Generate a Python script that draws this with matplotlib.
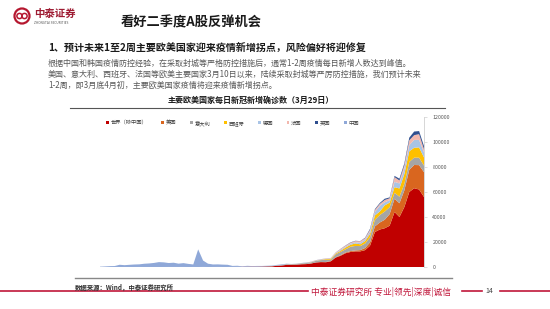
import matplotlib
matplotlib.use("Agg")
import matplotlib.pyplot as plt
import matplotlib.patches as mpatches
from matplotlib.lines import Line2D
import pandas as pd

plt.rcParams['font.family'] = ['Noto Sans CJK SC', 'DejaVu Sans']

dates = pd.date_range('2020-01-23', '2020-03-29')

series_names = ["世界（除中国）", "美国", "意大利", "西班牙", "德国", "法国", "英国", "中国"]

world_ex_china = [5, 8, 10, 12, 15, 10, 12, 20, 25,
                  10, 12, 15, 15, 20, 25, 30, 20, 40, 5, 30, 5, 70, 10, 30, 60, 20, 25, 50, 100,
                  150, 230, 260, 240, 330, 450, 510, 950, 1200,
                  1700, 1800, 1900, 2200, 2300, 2800, 3600, 3900, 3800, 4500, 7500, 9000, 11000, 12000,
                  12500, 12500, 13500, 17000, 28000, 30000, 31000, 33000, 44000, 40000, 48000, 60000,
                  63000, 62000, 56000]
usa = [0, 0, 0, 0, 0, 0, 0, 0, 0,
       0, 1, 0, 0, 0, 0, 0, 0, 0, 0, 0, 0, 0, 0, 0, 0, 0, 0, 0, 0,
       2, 0, 0, 18, 0, 0, 2, 1, 3,
       20, 25, 25, 30, 70, 60, 100, 120, 170, 300, 290, 450, 550, 700,
       750, 1000, 1700, 2700, 4500, 5600, 6800, 9300, 10600, 11000, 13300, 17800,
       18600, 19500, 19900]
italy = [0, 0, 0, 0, 0, 0, 0, 0, 2,
         0, 0, 0, 0, 0, 1, 0, 0, 0, 0, 0, 0, 0, 0, 0, 0, 0, 0, 0, 0,
         17, 62, 77, 73, 93, 78, 250, 238, 240,
         566, 342, 466, 587, 769, 778, 1247, 1492, 1797, 977, 2313, 2651, 2547, 3497,
         3590, 3233, 3526, 4207, 5322, 5986, 6557, 5560, 4789, 5249, 5210, 6203,
         5909, 5974, 5217]
spain = [0, 0, 0, 0, 0, 0, 0, 0, 0,
         1, 0, 0, 0, 0, 0, 0, 0, 1, 0, 0, 0, 0, 0, 0, 0, 0, 0, 0, 0,
         0, 0, 0, 0, 3, 7, 3, 17, 13,
         40, 36, 51, 70, 60, 150, 120, 200, 550, 600, 600, 900, 1400, 1500,
         2000, 1438, 1987, 2538, 3431, 2833, 4946, 3646, 4517, 6584, 7937, 8578,
         7871, 8189, 6549]
germany = [0, 0, 0, 0, 0, 1, 3, 0, 1,
           2, 2, 2, 2, 0, 0, 1, 0, 0, 0, 0, 0, 0, 0, 0, 0, 0, 0, 0, 0,
           0, 0, 0, 0, 1, 1, 5, 20, 10,
           60, 30, 40, 60, 160, 130, 160, 250, 200, 300, 370, 800, 700, 900,
           1000, 1200, 1200, 2000, 2800, 4500, 2500, 1900, 4200, 4000, 4100, 4900,
           6300, 6000, 4000]
france = [0, 2, 1, 0, 0, 0, 1, 0, 1,
          0, 0, 0, 0, 0, 0, 0, 5, 0, 0, 0, 0, 0, 0, 0, 0, 0, 0, 0, 0,
          0, 0, 0, 0, 2, 4, 20, 19, 43,
          30, 60, 30, 80, 100, 200, 200, 190, 290, 370, 500, 600, 800, 780,
          900, 1200, 1100, 1400, 1600, 1600, 1800, 1600, 3800, 2400, 2900, 3900,
          3800, 4600, 2600]
uk = [0, 0, 0, 0, 0, 0, 0, 0, 2,
      0, 0, 0, 0, 0, 1, 0, 0, 0, 5, 0, 0, 0, 0, 0, 0, 0, 0, 0, 0,
      0, 0, 0, 0, 0, 0, 0, 4, 3,
      13, 4, 12, 34, 30, 48, 43, 67, 46, 50, 80, 130, 200, 250,
      230, 150, 400, 680, 640, 700, 1000, 660, 960, 1400, 1450, 2100,
      2900, 2500, 2400]
china = [259, 444, 688, 769, 1771, 1459, 1737, 1982, 2102,
         2590, 2829, 3235, 3887, 3694, 3143, 3399, 2656, 3062, 2478, 2015, 14108, 5090, 2641,
         2009, 2048, 1886, 1749, 820, 889,
         397, 648, 409, 508, 406, 433, 327, 427, 573,
         202, 125, 119, 139, 143, 99, 44, 40, 19, 24, 15, 8, 11, 20,
         16, 21, 13, 34, 39, 41, 46, 39, 78, 47, 67, 55,
         54, 45, 31]

y_ticks = [0, 20000, 40000, 60000, 80000, 100000, 120000]

colors = ['#C00000', '#D9661F', '#A5A5A5', '#FFC000', '#A9C4E6', '#F2B8AE', '#2F4F8F', '#8FA8D8']

W, H = 550, 309
fig = plt.figure(figsize=(5.5, 3.09), dpi=100)
fig.patch.set_facecolor('white')


def P(x, y):
    return (x / W, 1 - y / H)


# ---- chart axes ----
ax = fig.add_axes([100 / W, 1 - 267 / H, 324 / W, 150 / H])
xs = list(range(len(dates)))
ax.stackplot(xs, world_ex_china, usa, italy, spain, germany, france, uk, china,
             colors=colors, labels=series_names, linewidth=0)
ax.set_xlim(0, len(dates) - 1)
ax.set_ylim(0, 120000)
for s in ['top', 'left', 'bottom']:
    ax.spines[s].set_visible(False)
ax.spines['right'].set_color('#D0D0D0')
ax.spines['right'].set_linewidth(0.6)
ax.yaxis.tick_right()
ax.set_yticks(y_ticks)
ax.set_yticklabels([str(v) for v in y_ticks], fontsize=3.8, color='#595959')
ax.tick_params(axis='y', length=2, width=0.5, color='#D0D0D0', pad=4)
ax.set_xticks([])
leg = ax.legend(loc='center', bbox_to_anchor=(0.41, 0.96), ncol=8, fontsize=3.8,
                frameon=False, handlelength=0.5, handleheight=0.5, columnspacing=2.6,
                handletextpad=0.35, borderaxespad=0)
for t in leg.get_texts():
    t.set_color('#404040')

# ---- slide decorations ----
ax_logo = fig.add_axes([0, 0, 1, 1], facecolor='none')
ax_logo.set_xlim(0, W)
ax_logo.set_ylim(H, 0)
ax_logo.axis('off')
ax_logo.add_patch(mpatches.Circle((22, 16), 7.5, facecolor='none', edgecolor='#B5172F', linewidth=1.6))
ax_logo.add_patch(mpatches.Circle((19.5, 16), 2.6, facecolor='none', edgecolor='#B5172F', linewidth=1.1))
ax_logo.add_patch(mpatches.Circle((24.5, 16), 2.6, facecolor='none', edgecolor='#B5172F', linewidth=1.1))

# lines
ax_logo.add_line(Line2D([70, 445], [108, 108], color='#555555', linewidth=0.8))
ax_logo.add_line(Line2D([75, 452], [278, 278], color='#888888', linewidth=1.0))
red = '#C0163A'
ax_logo.add_line(Line2D([0, 308], [291, 291], color=red, linewidth=1.2))
ax_logo.add_line(Line2D([462, 482], [291, 291], color=red, linewidth=1.2))
ax_logo.add_line(Line2D([500, 550], [291, 291], color=red, linewidth=1.2))

fig.text(*P(34, 14), "中泰证券", fontsize=7.5, fontweight='bold', color='#9E1B32', va='center', ha='left')
fig.text(*P(34, 23), "ZHONGTAI SECURITIES", fontsize=2.3, color='#555555', va='center', ha='left')

fig.text(*P(191, 22), "看好二季度A股反弹机会", fontsize=9.5, fontweight='bold', color='#1A1A1A',
         va='center', ha='center')

fig.text(*P(48, 48), "1、预计未来1至2周主要欧美国家迎来疫情新增拐点，风险偏好将迎修复",
         fontsize=7.2, fontweight='bold', color='#1A1A1A', va='center', ha='left')
body = ["根据中国和韩国疫情防控经验，在采取封城等严格防控措施后，通常1-2周疫情每日新增人数达到峰值。",
        "美国、意大利、西班牙、法国等欧美主要国家3月10日以来，陆续采取封城等严厉防控措施，我们预计未来",
        "1-2周，即3月底4月初，主要欧美国家疫情将迎来疫情新增拐点。"]
for i, line in enumerate(body):
    fig.text(*P(48, 63 + 11 * i), line, fontsize=5.8, color='#595959', va='center', ha='left')

fig.text(*P(251, 100), "主要欧美国家每日新冠新增确诊数（3月29日）", fontsize=5.8, fontweight='bold',
         color='#1A1A1A', va='center', ha='center')

fig.text(*P(75, 287), "数据来源：Wind，中泰证券研究所", fontsize=4.6, fontweight='bold',
         color='#333333', va='center', ha='left')
fig.text(*P(311, 292), "中泰证券研究所 专业|领先|深度|诚信", fontsize=6.3, color=red,
         va='center', ha='left')
fig.text(*P(489, 291), "14", fontsize=5, color='#444444', va='center', ha='center')

fig.savefig('out.png', dpi=100, facecolor='white')
